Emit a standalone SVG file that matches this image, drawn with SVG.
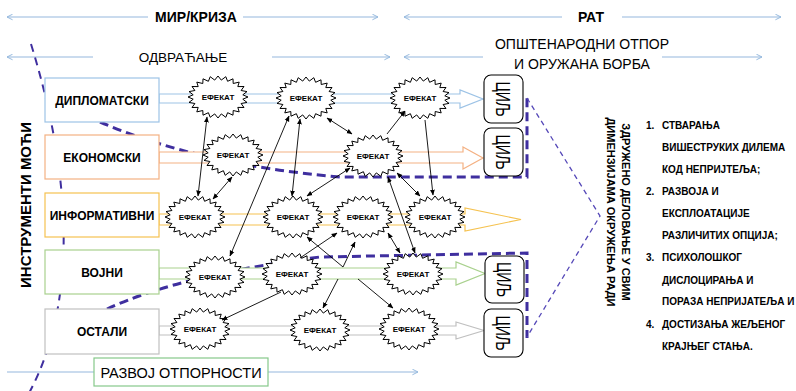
<svg xmlns="http://www.w3.org/2000/svg" xmlns:xlink="http://www.w3.org/1999/xlink" width="796" height="391" viewBox="0 0 796 391">
<style>
text{font-family:"Liberation Sans",Arial,sans-serif;fill:#000}
.tl{stroke:#95b8dd;stroke-width:1.2;fill:none}
.box{fill:#fff;stroke-width:1.2}
.bl{font-size:12px;font-weight:bold;text-anchor:middle}
.ef{font-size:8px;font-weight:bold;text-anchor:middle}
.star{fill:#fff;stroke:#000;stroke-width:1}
.cil{fill:#fff;stroke:#000;stroke-width:1.1}
.ct{font-size:14px;text-anchor:middle}
.con{stroke:#000;stroke-width:0.9;fill:none;marker-end:url(#ah)}
.dbl{marker-start:url(#ah)}
.ra{fill:#fff;stroke-width:1.2}
.dk{fill:none;stroke:#3f2f9f;stroke-width:3;stroke-dasharray:9 5}
.dm{fill:none;stroke:#3f2f9f;stroke-width:2;stroke-dasharray:8 6}
.dt{fill:none;stroke:#5548b8;stroke-width:1.3;stroke-dasharray:5 4}
.li{font-size:10px;font-weight:bold}
</style>
<defs>
<marker id="ah" viewBox="0 0 10 10" refX="9" refY="5" markerWidth="6" markerHeight="6" markerUnits="userSpaceOnUse" orient="auto-start-reverse"><path d="M0,1 L10,5 L0,9 z" fill="#000"/></marker>
<marker id="ch" viewBox="0 0 10 10" refX="9" refY="5" markerWidth="7" markerHeight="7" markerUnits="userSpaceOnUse" orient="auto-start-reverse"><path d="M1,1 L9,5 L1,9" fill="none" stroke="#95b8dd" stroke-width="1.4"/></marker>
<path id="star" class="star" d="M30,0 L24.8,2.2 L29,5.4 L23.1,6.5 L26,10.5 L19.8,10.4 L21.2,14.9 L15.2,13.5 L15,18.2 L9.6,15.7 L7.8,20.3 L3.3,16.9 L0,21 L-3.3,16.9 L-7.8,20.3 L-9.6,15.7 L-15,18.2 L-15.2,13.5 L-21.2,14.9 L-19.8,10.4 L-26,10.5 L-23.1,6.5 L-29,5.4 L-24.8,2.2 L-30,0 L-24.8,-2.2 L-29,-5.4 L-23.1,-6.5 L-26,-10.5 L-19.8,-10.4 L-21.2,-14.9 L-15.2,-13.5 L-15,-18.2 L-9.6,-15.7 L-7.8,-20.3 L-3.3,-16.9 L0,-21 L3.3,-16.9 L7.8,-20.3 L9.6,-15.7 L15,-18.2 L15.2,-13.5 L21.2,-14.9 L19.8,-10.4 L26,-10.5 L23.1,-6.5 L29,-5.4 L24.8,-2.2 Z"/>
</defs>
<rect width="796" height="391" fill="#fff"/>

<!-- timelines -->
<g id="timelines">
<line class="tl" x1="7" y1="17" x2="148" y2="17" marker-start="url(#ch)"/>
<line class="tl" x1="243" y1="17" x2="378" y2="17" marker-end="url(#ch)"/>
<text x="196" y="22" font-size="14" font-weight="bold" text-anchor="middle">МИР/КРИЗА</text>
<line class="tl" x1="404" y1="17" x2="562" y2="17" marker-start="url(#ch)"/>
<line class="tl" x1="622" y1="17" x2="781" y2="17" marker-end="url(#ch)"/>
<text x="591" y="22" font-size="14" font-weight="bold" text-anchor="middle">РАТ</text>
<line class="tl" x1="7" y1="57" x2="93" y2="57" marker-start="url(#ch)"/>
<line class="tl" x1="272" y1="57" x2="390" y2="57" marker-end="url(#ch)"/>
<text x="183" y="62" font-size="13.5" text-anchor="middle">ОДВРАЋАЊЕ</text>
<line class="tl" x1="404" y1="57" x2="483" y2="57" marker-start="url(#ch)"/>
<line class="tl" x1="662" y1="57" x2="762" y2="57" marker-end="url(#ch)"/>
<text x="582" y="49" font-size="14" text-anchor="middle">ОПШТЕНАРОДНИ ОТПОР</text>
<text x="582" y="69" font-size="14" text-anchor="middle">И ОРУЖАНА БОРБА</text>
<line class="tl" x1="7" y1="372" x2="94" y2="372"/>
<line class="tl" x1="268" y1="372" x2="418" y2="372" marker-end="url(#ch)"/>
</g>

<!-- dashed boundaries -->
<g id="boundaries">
<path class="dm" d="M31,44 C70,170 80,300 28,395"/>
<path class="dk" d="M100,122 Q200,165 340,177 L527,177 L527,96"/>
<path class="dk" d="M107,309 Q180,275 320,257 L527,253 L527,338"/>
<path class="dt" d="M527,98 L600,216 L527,337"/>
</g>

<!-- row block arrows -->
<g id="connectors">
<g id="row-arrows">
<path class="ra" stroke="#9dc3e6" d="M159,94 L460,94 L460,90 L483,99 L460,108 L460,103 L159,103 Z"/>
<path class="ra" stroke="#f4b183" d="M159,152 L463,152 L463,147 L483,158 L463,169 L463,163 L159,163 Z"/>
<path class="ra" stroke="#f5c250" d="M159,214 L465,214 L465,208 L521,219.5 L465,231 L465,225 L159,225 Z"/>
<path class="ra" stroke="#a9d18e" d="M159,268 L456,268 L456,262 L485,273.5 L456,285 L456,279 L159,279 Z"/>
<path class="ra" stroke="#c0c0c0" d="M159,326 L456,326 L456,322 L484,330.5 L456,339 L456,335 L159,335 Z"/>
</g>
</g>

<!-- instrument boxes -->
<g id="n-dip"><rect class="box" x="45" y="78" width="114" height="44" stroke="#9dc3e6"/><text class="bl" x="102" y="104.5">ДИПЛОМАТСКИ</text></g>
<g id="n-eko"><rect class="box" x="45" y="135" width="114" height="44" stroke="#f4b183"/><text class="bl" x="102" y="161.5">ЕКОНОМСКИ</text></g>
<g id="n-inf"><rect class="box" x="45" y="193" width="114" height="44" stroke="#f5c250"/><text class="bl" x="102" y="219.5">ИНФОРМАТИВНИ</text></g>
<g id="n-voj"><rect class="box" x="45" y="250" width="114" height="44" stroke="#a9d18e"/><text class="bl" x="102" y="276.5">ВОЈНИ</text></g>
<g id="n-ost"><rect class="box" x="45" y="309" width="114" height="45" stroke="#c0c0c0"/><text class="bl" x="102" y="336">ОСТАЛИ</text></g>
<g id="n-razvoj"><rect class="box" x="94" y="358" width="174" height="28" stroke="#86c98a"/><text x="181" y="378" font-size="14.5" text-anchor="middle">РАЗВОЈ ОТПОРНОСТИ</text></g>

<g id="n-instr"><text transform="translate(31,205) rotate(-90)" font-size="15" font-weight="bold" text-anchor="middle">ИНСТРУМЕНТИ МОЋИ</text></g>

<!-- effect stars -->
<g id="ef-a" transform="translate(218,97)"><use xlink:href="#star"/><text class="ef" y="3">ЕФЕКАТ</text></g>
<g id="ef-d" transform="translate(306,98)"><use xlink:href="#star"/><text class="ef" y="3">ЕФЕКАТ</text></g>
<g id="ef-e" transform="translate(420,98)"><use xlink:href="#star"/><text class="ef" y="3">ЕФЕКАТ</text></g>
<g id="ef-b" transform="translate(233,155)"><use xlink:href="#star"/><text class="ef" y="3">ЕФЕКАТ</text></g>
<g id="ef-f" transform="translate(373,156)"><use xlink:href="#star"/><text class="ef" y="3">ЕФЕКАТ</text></g>
<g id="ef-c" transform="translate(195,217)"><use xlink:href="#star"/><text class="ef" y="3">ЕФЕКАТ</text></g>
<g id="ef-g" transform="translate(293,217)"><use xlink:href="#star"/><text class="ef" y="3">ЕФЕКАТ</text></g>
<g id="ef-h" transform="translate(363,217)"><use xlink:href="#star"/><text class="ef" y="3">ЕФЕКАТ</text></g>
<g id="ef-i" transform="translate(435,217)"><use xlink:href="#star"/><text class="ef" y="3">ЕФЕКАТ</text></g>
<g id="ef-j" transform="translate(215,277)"><use xlink:href="#star"/><text class="ef" y="3">ЕФЕКАТ</text></g>
<g id="ef-l" transform="translate(292,274)"><use xlink:href="#star"/><text class="ef" y="3">ЕФЕКАТ</text></g>
<g id="ef-m" transform="translate(413,274)"><use xlink:href="#star"/><text class="ef" y="3">ЕФЕКАТ</text></g>
<g id="ef-k" transform="translate(200,329)"><use xlink:href="#star"/><text class="ef" y="3">ЕФЕКАТ</text></g>
<g id="ef-n" transform="translate(320,330)"><use xlink:href="#star"/><text class="ef" y="3">ЕФЕКАТ</text></g>
<g id="ef-o" transform="translate(409,329)"><use xlink:href="#star"/><text class="ef" y="3">ЕФЕКАТ</text></g>

<!-- goal boxes -->
<g id="cil-1"><rect class="cil" x="484" y="75" width="39" height="48" rx="7"/><text class="ct" y="5" transform="translate(503.5,99) rotate(90) scale(1,1.5)">ЦИЉ</text></g>
<g id="cil-2"><rect class="cil" x="484" y="128" width="39" height="48" rx="7"/><text class="ct" y="5" transform="translate(503.5,152) rotate(90) scale(1,1.5)">ЦИЉ</text></g>
<g id="cil-3"><rect class="cil" x="485" y="256" width="39" height="47" rx="7"/><text class="ct" y="5" transform="translate(504.5,279.5) rotate(90) scale(1,1.5)">ЦИЉ</text></g>
<g id="cil-4"><rect class="cil" x="484" y="309" width="39" height="48" rx="7"/><text class="ct" y="5" transform="translate(503.5,333) rotate(90) scale(1,1.5)">ЦИЉ</text></g>

<!-- effect connectors -->
<g id="effect-links">
<line class="con dbl" x1="207" y1="117" x2="198" y2="196"/>
<line class="con dbl" x1="232" y1="177" x2="213" y2="199"/>
<line class="con dbl" x1="289" y1="116" x2="230" y2="256"/>
<line class="con dbl" x1="300" y1="119" x2="292" y2="196"/>
<line class="con dbl" x1="327" y1="118" x2="352" y2="134"/>
<line class="con" x1="387" y1="134" x2="405" y2="111"/>
<line class="con" x1="425" y1="120" x2="433" y2="195"/>
<line class="con dbl" x1="350" y1="168" x2="307" y2="196"/>
<line class="con dbl" x1="397" y1="173" x2="420" y2="196"/>
<line class="con dbl" x1="388" y1="177" x2="415" y2="253"/>
<line class="con dbl" x1="388" y1="233" x2="400" y2="253"/>
<line class="con" x1="300" y1="258" x2="337" y2="233"/>
<line class="con" x1="343" y1="267" x2="307" y2="237"/>
<line class="con" x1="343" y1="267" x2="355" y2="242"/>
<line class="con" x1="338" y1="279" x2="323" y2="308"/>
<line class="con" x1="358" y1="279" x2="393" y2="308"/>
<line class="con" x1="281" y1="292" x2="222" y2="320"/>
</g>

<!-- right side texts -->
<g id="n-zdruzeno">
<text transform="translate(622,212) rotate(90)" font-size="11" font-weight="bold" text-anchor="middle">ЗДРУЖЕНО ДЕЛОВАЊЕ У СВИМ</text>
<text transform="translate(607,212) rotate(90)" font-size="11" font-weight="bold" text-anchor="middle">ДИМЕНЗИЈАМА ОКРУЖЕЊА РАДИ</text>
</g>
<g id="n-list">
<text class="li" x="646" y="128.5">1.</text><text class="li" x="662" y="128.5">СТВАРАЊА</text>
<text class="li" x="662" y="151">ВИШЕСТРУКИХ ДИЛЕМА</text>
<text class="li" x="662" y="173">КОД НЕПРИЈТЕЉА;</text>
<text class="li" x="646" y="194.5">2.</text><text class="li" x="662" y="194.5">РАЗВОЈА И</text>
<text class="li" x="662" y="217">ЕКСПЛОАТАЦИЈЕ</text>
<text class="li" x="662" y="239">РАЗЛИЧИТИХ ОПЦИЈА;</text>
<text class="li" x="646" y="261">3.</text><text class="li" x="662" y="261">ПСИХОЛОШКОГ</text>
<text class="li" x="662" y="283.5">ДИСЛОЦИРАЊА И</text>
<text class="li" x="662" y="305">ПОРАЗА НЕПРИЈАТЕЉА И</text>
<text class="li" x="646" y="328">4.</text><text class="li" x="662" y="328">ДОСТИЗАЊА ЖЕЉЕНОГ</text>
<text class="li" x="662" y="349.5">КРАЈЊЕГ СТАЊА.</text>
</g>
</svg>
